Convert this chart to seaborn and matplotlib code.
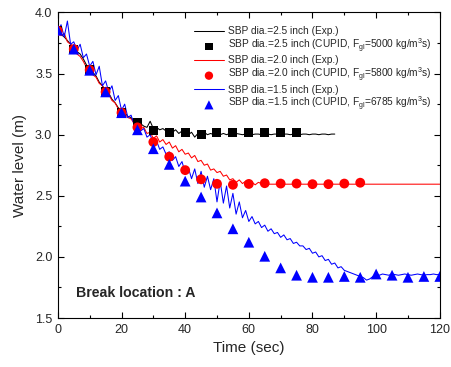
import matplotlib
matplotlib.use("Agg")
import matplotlib.pyplot as plt
import seaborn as sns
import pandas as pd
from matplotlib.ticker import MultipleLocator

# ---------------- data ----------------
# Experimental (1 s sampling)
t_exp_25 = list(range(0, 88))
h_exp_25 = [3.86, 3.82, 3.80, 3.77, 3.74, 3.71, 3.68, 3.66, 3.62, 3.57,
            3.54, 3.51, 3.48, 3.43, 3.40, 3.36, 3.34, 3.29, 3.26, 3.22,
            3.20, 3.18, 3.15, 3.14, 3.11, 3.10, 3.09, 3.07, 3.06, 3.11,
            3.05, 3.06, 3.04, 3.05, 3.03, 3.04, 3.02, 3.04, 3.01, 3.03,
            3.02, 3.00, 3.02, 2.98, 3.01, 3.00, 3.02, 3.00, 3.01, 3.00,
            3.01, 3.00, 3.01, 3.00, 3.01, 3.00, 3.01, 3.005, 3.00, 3.005,
            3.005, 3.00, 3.005, 3.005, 3.00, 3.005, 3.005, 3.00, 3.005, 3.005,
            3.00, 3.005, 3.005, 3.00, 3.005, 3.005, 3.00, 3.005, 3.005, 3.00,
            3.005, 3.005, 3.00, 3.005, 3.005, 3.00, 3.005, 3.005]

t_exp_20 = list(range(0, 121))
h_exp_20 = [3.85, 3.81, 3.83, 3.76, 3.74, 3.70, 3.66, 3.64, 3.60, 3.55,
            3.53, 3.49, 3.47, 3.42, 3.40, 3.35, 3.33, 3.28, 3.26, 3.21,
            3.19, 3.17, 3.14, 3.13, 3.09, 3.08, 3.05, 3.06, 3.01, 3.02,
            2.97, 2.99, 2.94, 2.96, 2.92, 2.94, 2.89, 2.91, 2.86, 2.88,
            2.84, 2.85, 2.81, 2.83, 2.78, 2.79, 2.75, 2.76, 2.71, 2.72,
            2.69, 2.70, 2.66, 2.67, 2.63, 2.64, 2.61, 2.63, 2.60, 2.62,
            2.60, 2.61, 2.59, 2.61, 2.60, 2.60, 2.595, 2.595, 2.595, 2.595,
            2.595, 2.595, 2.595, 2.595, 2.595, 2.595, 2.595, 2.595, 2.595, 2.595,
            2.595, 2.595, 2.595, 2.595, 2.595, 2.595, 2.595, 2.595, 2.595, 2.595,
            2.595, 2.595, 2.595, 2.595, 2.595, 2.595, 2.595, 2.595, 2.595, 2.595,
            2.595, 2.595, 2.595, 2.595, 2.595, 2.595, 2.595, 2.595, 2.595, 2.595,
            2.595, 2.595, 2.595, 2.595, 2.595, 2.595, 2.595, 2.595, 2.595, 2.595,
            2.595]

t_exp_15 = list(range(0, 121))
h_exp_15 = [3.84, 3.90, 3.80, 3.93, 3.74, 3.76, 3.69, 3.74, 3.63, 3.66,
            3.56, 3.60, 3.49, 3.56, 3.40, 3.44, 3.35, 3.40, 3.28, 3.32,
            3.20, 3.25, 3.14, 3.16, 3.08, 3.06, 3.03, 3.05, 2.98, 3.00,
            2.93, 2.95, 2.88, 2.90, 2.84, 2.86, 2.79, 2.82, 2.74, 2.78,
            2.69, 2.73, 2.64, 2.72, 2.60, 2.70, 2.57, 2.66, 2.55, 2.64,
            2.45, 2.62, 2.44, 2.58, 2.40, 2.52, 2.35, 2.45, 2.32, 2.38,
            2.29, 2.33, 2.27, 2.29, 2.24, 2.26, 2.21, 2.23, 2.19, 2.20,
            2.16, 2.18, 2.14, 2.15, 2.11, 2.12, 2.09, 2.09, 2.06, 2.07,
            2.03, 2.04, 2.00, 2.01, 1.97, 1.98, 1.94, 1.95, 1.91, 1.92,
            1.89, 1.88, 1.87, 1.86, 1.85, 1.84, 1.83, 1.81, 1.82, 1.84,
            1.86, 1.85, 1.86, 1.855, 1.85, 1.86, 1.855, 1.85, 1.855, 1.86,
            1.855, 1.85, 1.855, 1.86, 1.855, 1.85, 1.855, 1.855, 1.86, 1.855,
            1.855]

# CUPID (5 s sampling)
t_cup_25 = [0, 5, 10, 15, 20, 25, 30, 35, 40, 45, 50, 55, 60, 65, 70, 75]
h_cup_25 = [3.85, 3.70, 3.53, 3.35, 3.18, 3.10, 3.035, 3.015, 3.015, 3.00,
            3.015, 3.015, 3.015, 3.015, 3.015, 3.015]

t_cup_20 = [0, 5, 10, 15, 20, 25, 30, 35, 40, 45, 50, 55, 60, 65, 70, 75,
            80, 85, 90, 95]
h_cup_20 = [3.85, 3.70, 3.53, 3.35, 3.18, 3.06, 2.94, 2.82, 2.71, 2.635,
            2.598, 2.59, 2.597, 2.603, 2.60, 2.60, 2.595, 2.595, 2.60, 2.607]

t_cup_15 = [0, 5, 10, 15, 20, 25, 30, 35, 40, 45, 50, 55, 60, 65, 70, 75,
            80, 85, 90, 95, 100, 105, 110, 115, 120]
h_cup_15 = [3.855, 3.70, 3.527, 3.35, 3.18, 3.04, 2.885, 2.757, 2.62, 2.49,
            2.36, 2.23, 2.12, 2.005, 1.91, 1.85, 1.833, 1.833, 1.84, 1.833,
            1.86, 1.85, 1.833, 1.84, 1.84]

labels = ["SBP dia.=2.5 inch (Exp.)",
          "SBP dia.=2.5 inch (CUPID, F$_{gl}$=5000 kg/m$^3$s)",
          "SBP dia.=2.0 inch (Exp.)",
          "SBP dia.=2.0 inch (CUPID, F$_{gl}$=5800 kg/m$^3$s)",
          "SBP dia.=1.5 inch (Exp.)",
          "SBP dia.=1.5 inch (CUPID, F$_{gl}$=6785 kg/m$^3$s)"]

# ---------------- style ----------------
sns.set_style("ticks")
plt.rcParams["font.family"] = ["Liberation Sans", "DejaVu Sans"]
plt.rcParams["mathtext.fontset"] = "custom"
plt.rcParams["mathtext.rm"] = "Liberation Sans"
plt.rcParams["mathtext.it"] = "Liberation Sans"

fig = plt.figure(figsize=(4.52, 3.67), dpi=100)
ax = fig.add_axes([0.128, 0.1335, 0.845, 0.8325])

lw = 0.75
sns.lineplot(x=t_exp_25, y=h_exp_25, color="black", lw=lw, ax=ax,
             label=labels[0], zorder=2)
sns.scatterplot(x=t_cup_25, y=h_cup_25, color="black", marker="s", s=42,
                edgecolor="none", ax=ax, label=labels[1], zorder=4)
sns.lineplot(x=t_exp_20, y=h_exp_20, color="red", lw=lw, ax=ax,
             label=labels[2], zorder=2)
sns.scatterplot(x=t_cup_20, y=h_cup_20, color="red", marker="o", s=50,
                edgecolor="none", ax=ax, label=labels[3], zorder=4)
sns.lineplot(x=t_exp_15, y=h_exp_15, color="blue", lw=lw, ax=ax,
             label=labels[4], zorder=2)
sns.scatterplot(x=t_cup_15, y=h_cup_15, color="blue", marker="^", s=60,
                edgecolor="none", ax=ax, label=labels[5], zorder=4)

ax.set_xlim(0, 120)
ax.set_ylim(1.5, 4.0)
ax.xaxis.set_major_locator(MultipleLocator(20))
ax.xaxis.set_minor_locator(MultipleLocator(10))
ax.yaxis.set_major_locator(MultipleLocator(0.5))
ax.yaxis.set_minor_locator(MultipleLocator(0.25))
ax.yaxis.set_major_formatter(matplotlib.ticker.FormatStrFormatter("%.1f"))
ax.tick_params(which="both", direction="in", top=True, right=True,
               labelsize=9, width=0.8, color="black")
ax.tick_params(which="major", length=4, pad=4)
ax.tick_params(which="minor", length=2.5)
for sp in ax.spines.values():
    sp.set_linewidth(0.8)
    sp.set_color("black")

ax.set_xlabel("Time (sec)", fontsize=11, labelpad=4)
ax.set_ylabel("Water level (m)", fontsize=11, labelpad=6)

ax.text(5.8, 1.707, "Break location : A", fontsize=10.2, fontweight="bold",
        va="center", ha="left")

handles, labs = ax.get_legend_handles_labels()
leg = ax.legend(handles, labs, loc="upper right", frameon=False, fontsize=7.3,
                bbox_to_anchor=(0.995, 0.975), handlelength=2.9,
                handletextpad=0.45, labelspacing=0.05, borderaxespad=0.2,
                markerscale=0.85)

fig.savefig("out.png", dpi=100)
